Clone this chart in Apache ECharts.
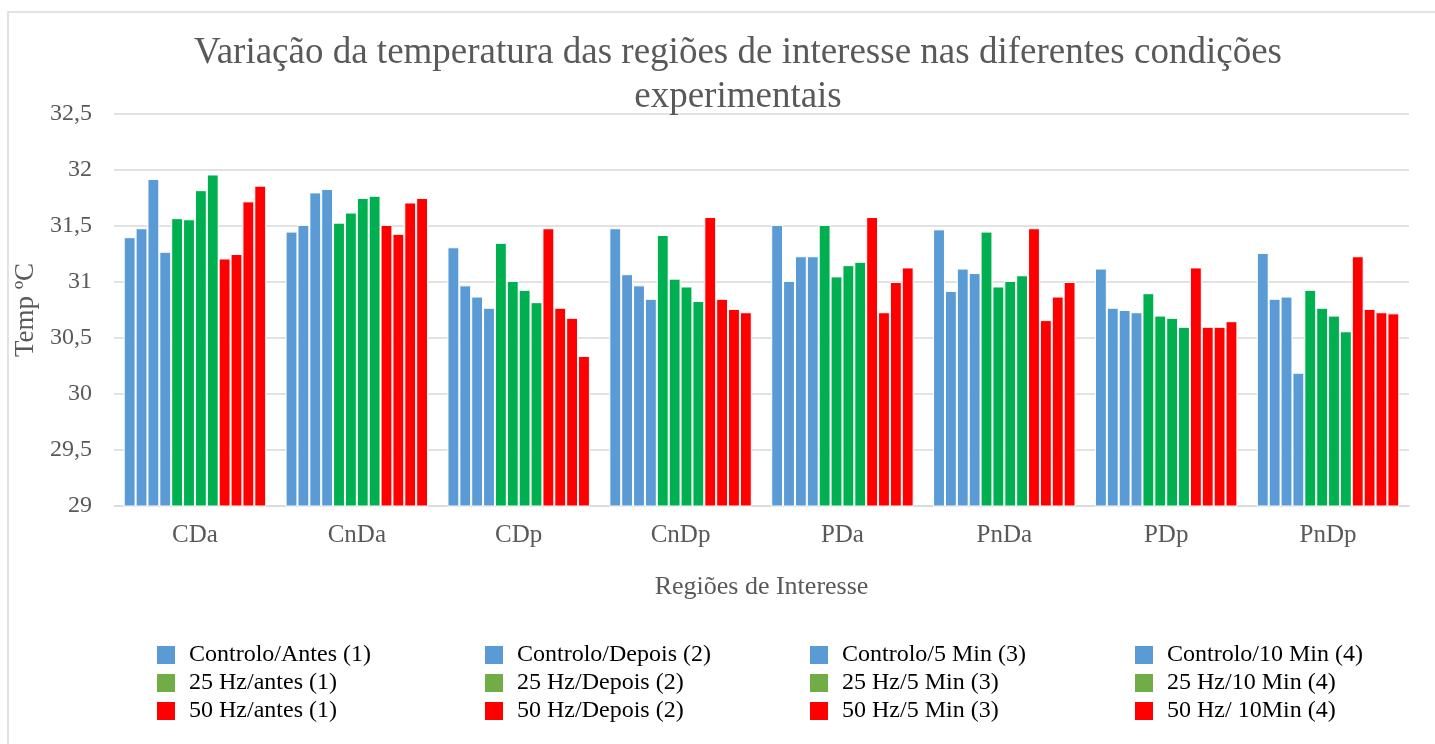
<!DOCTYPE html>
<html>
<head>
<meta charset="utf-8">
<script src="https://cdn.jsdelivr.net/npm/echarts@6/dist/echarts.min.js"></script>
<style>
  html, body { margin: 0; padding: 0; background: #fff; }
  #chart { width: 1435px; height: 744px; }
</style>
</head>
<body>
<div id="chart"></div>
<script>
const categories = ["CDa", "CnDa", "CDp", "CnDp", "PDa", "PnDa", "PDp", "PnDp"];

// controlo
const controloAntes = [31.40, 31.45, 31.31, 31.48, 31.51, 31.47, 31.12, 31.26];
const controloDepois = [31.48, 31.51, 30.97, 31.07, 31.01, 30.92, 30.77, 30.85];
const controlo5Min = [31.92, 31.80, 30.87, 30.97, 31.23, 31.12, 30.75, 30.87];
const controlo10Min = [31.27, 31.83, 30.77, 30.85, 31.23, 31.08, 30.73, 30.19];
// 25 Hz
const hz25Antes = [31.57, 31.53, 31.35, 31.42, 31.51, 31.45, 30.90, 30.93];
const hz25Depois = [31.56, 31.62, 31.01, 31.03, 31.05, 30.96, 30.70, 30.77];
const hz25_5Min = [31.82, 31.75, 30.93, 30.96, 31.15, 31.01, 30.68, 30.70];
const hz25_10Min = [31.96, 31.77, 30.82, 30.83, 31.18, 31.06, 30.60, 30.56];
// 50 Hz
const hz50Antes = [31.21, 31.51, 31.48, 31.58, 31.58, 31.48, 31.13, 31.23];
const hz50Depois = [31.25, 31.43, 30.77, 30.85, 30.73, 30.66, 30.60, 30.76];
const hz50_5Min = [31.72, 31.71, 30.68, 30.76, 31.00, 30.87, 30.60, 30.73];
const hz50_10Min = [31.86, 31.75, 30.34, 30.73, 31.13, 31.00, 30.65, 30.72];

const seriesNames = [
  "Controlo/Antes (1)", "Controlo/Depois (2)", "Controlo/5 Min (3)", "Controlo/10 Min (4)",
  "25 Hz/antes (1)", "25 Hz/Depois (2)", "25 Hz/5 Min (3)", "25 Hz/10 Min (4)",
  "50 Hz/antes (1)", "50 Hz/Depois (2)", "50 Hz/5 Min (3)", "50 Hz/ 10Min (4)"
];
const seriesValues = [
  controloAntes, controloDepois, controlo5Min, controlo10Min,
  hz25Antes, hz25Depois, hz25_5Min, hz25_10Min,
  hz50Antes, hz50Depois, hz50_5Min, hz50_10Min
];

const yTicks = [29, 29.5, 30, 30.5, 31, 31.5, 32, 32.5];

const BLUE = "#5B9BD5";
const GREEN = "#00B050";
const GREEN_LEGEND = "#70AD47";
const RED = "#FF0000";
const groupColor = (i) => (i < 4 ? BLUE : i < 8 ? GREEN : RED);
const legendColor = (i) => (i < 4 ? BLUE : i < 8 ? GREEN_LEGEND : RED);

const font = "'Liberation Serif', 'Times New Roman', serif";
const chart = echarts.init(document.getElementById("chart"));

// one vertical legend per column, rows are the three conditions
const legendLefts = [155, 483, 808, 1133];
const legends = legendLefts.map((left, col) => ({
  orient: "vertical",
  left: left,
  top: 643,
  padding: 0,
  icon: "rect",
  itemWidth: 20,
  itemHeight: 20,
  itemGap: 4,
  selectedMode: false,
  textStyle: { fontFamily: font, fontSize: 24, color: "#000", padding: [0, 0, 0, 8] },
  data: [col, col + 4, col + 8].map((i) => ({
    name: seriesNames[i],
    itemStyle: { color: legendColor(i) },
  })),
}));

const option = {
  animation: false,
  backgroundColor: "#fff",
  title: {
    text: "Variação da temperatura das regiões de interesse nas diferentes condições\nexperimentais",
    left: 733,
    top: 26,
    textAlign: "center",
    textStyle: {
      fontFamily: font,
      fontSize: 37,
      fontWeight: "normal",
      color: "#595959",
      lineHeight: 44,
    },
  },
  graphic: [
    {
      type: "rect",
      shape: { x: 8, y: 12, width: 1440, height: 760 },
      style: { fill: "none", stroke: "#D9D9D9", lineWidth: 1.5 },
      silent: true,
    },
  ],
  legend: legends,
  grid: { left: 114, right: 26, top: 114, bottom: 238 },
  xAxis: {
    type: "category",
    data: categories,
    name: "Regiões de Interesse",
    nameLocation: "middle",
    nameGap: 68,
    nameTextStyle: { fontFamily: font, fontSize: 26, color: "#595959" },
    axisLine: { lineStyle: { color: "#D9D9D9", width: 1.5 } },
    axisTick: { show: false },
    axisLabel: { fontFamily: font, fontSize: 25, color: "#595959", margin: 17 },
  },
  yAxis: {
    type: "value",
    min: yTicks[0],
    max: yTicks[yTicks.length - 1],
    interval: 0.5,
    name: "Temp ºC",
    nameLocation: "middle",
    nameGap: 72,
    nameRotate: 90,
    nameTextStyle: { fontFamily: font, fontSize: 27, color: "#595959" },
    axisLine: { show: false },
    axisTick: { show: false },
    splitLine: { lineStyle: { color: "#D9D9D9", width: 1.5 } },
    axisLabel: {
      fontFamily: font,
      fontSize: 24,
      color: "#595959",
      margin: 22,
      formatter: (v) => String(v).replace(".", ","),
    },
  },
  series: seriesValues.map((vals, i) => ({
    name: seriesNames[i],
    type: "bar",
    data: vals,
    barGap: "0%",
    barCategoryGap: "12%",
    itemStyle: { color: groupColor(i), borderColor: "#fff", borderWidth: 1 },
  })),
};

chart.setOption(option);
</script>
</body>
</html>
